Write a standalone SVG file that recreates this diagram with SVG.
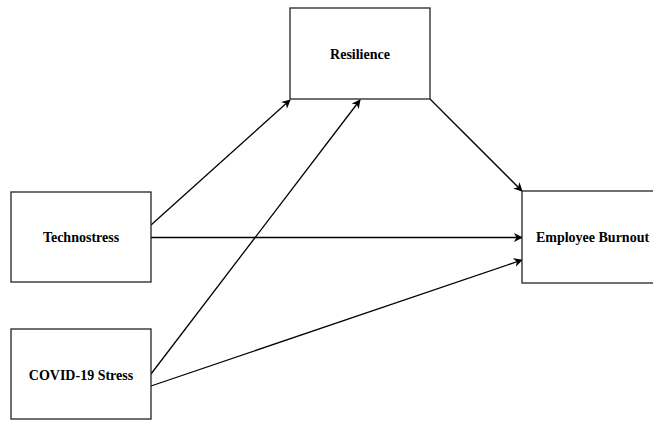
<svg xmlns="http://www.w3.org/2000/svg" width="653" height="422" viewBox="0 0 653 422">
<defs>
<style>
.box{fill:#fff;stroke:#222;stroke-width:1.3}
.lbl{font-family:"Liberation Serif","Times New Roman",serif;font-weight:bold;font-size:14px;fill:#000;text-anchor:middle}
.edge{stroke:#000;stroke-width:1.3;fill:none;marker-end:url(#arr)}
</style>
<marker id="arr" viewBox="0 0 10 10" refX="9" refY="5" markerWidth="9" markerHeight="9" markerUnits="userSpaceOnUse" orient="auto">
<path d="M0,0 L10,5 L0,10 L3,5 Z" fill="#000"/>
</marker>
</defs>
<rect width="653" height="422" fill="#fff"/>
<g id="connectors">
<line class="edge" x1="151" y1="225" x2="290" y2="100"/>
<line class="edge" x1="151" y1="237.5" x2="522" y2="237.5"/>
<line class="edge" x1="151" y1="374" x2="360" y2="100"/>
<line class="edge" x1="151" y1="386" x2="522" y2="260"/>
<line class="edge" x1="430" y1="99" x2="522" y2="191"/>
</g>
<g id="resilience">
<rect class="box" x="290" y="8" width="140" height="91"/>
<text class="lbl" x="360" y="58.5">Resilience</text>
</g>
<g id="technostress">
<rect class="box" x="11" y="192" width="140" height="90"/>
<text class="lbl" x="81" y="242">Technostress</text>
</g>
<g id="burnout">
<rect class="box" x="522" y="191" width="140" height="92"/>
<text class="lbl" x="592.5" y="242">Employee Burnout</text>
</g>
<g id="covid">
<rect class="box" x="11" y="329" width="140" height="90"/>
<text class="lbl" x="81" y="380">COVID-19 Stress</text>
</g>
</svg>
